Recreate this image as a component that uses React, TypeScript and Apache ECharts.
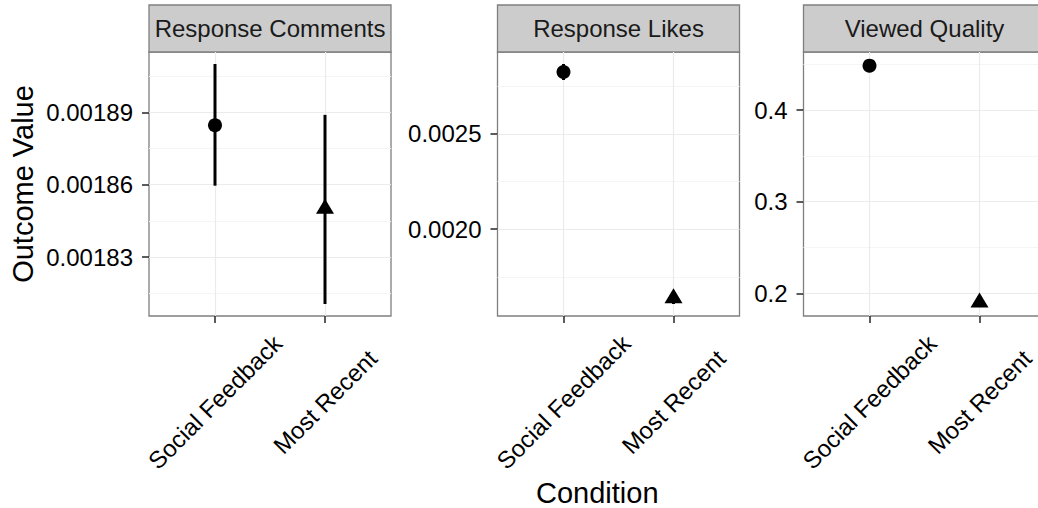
import React, { useEffect, useRef } from "react";
import * as echarts from "echarts";

// ---- data ----
const conditions = ["Social Feedback", "Most Recent"];
const facets = ["Response Comments", "Response Likes", "Viewed Quality"];

const commentsMean = [0.0018847, 0.00185];
const commentsLower = [0.0018596, 0.0018105];
const commentsUpper = [0.0019101, 0.001889];

const likesMean = [0.002824, 0.001638];
const likesLower = [0.002782, 0.001608];
const likesUpper = [0.002866, 0.001668];

const qualityMean = [0.4484, 0.19];
const qualityLower = [0.4466, 0.1883];
const qualityUpper = [0.4502, 0.1917];

const commentsTicks = [0.00183, 0.00186, 0.00189];
const commentsTickLabels = ["0.00183", "0.00186", "0.00189"];
const commentsMinor = [0.001815, 0.001845, 0.001875, 0.001905];

const likesTicks = [0.002, 0.0025];
const likesTickLabels = ["0.0020", "0.0025"];
const likesMinor = [0.00175, 0.00225, 0.00275];

const qualityTicks = [0.2, 0.3, 0.4];
const qualityTickLabels = ["0.2", "0.3", "0.4"];
const qualityMinor = [0.25, 0.35, 0.45];

const xTitle = "Condition";
const yTitle = "Outcome Value";

const FONT = '"Liberation Sans", Arial, Helvetica, sans-serif';

export default function App() {
  const ref = useRef<HTMLDivElement>(null);

  useEffect(() => {
    if (!ref.current) return;
    const chart = echarts.init(ref.current, undefined, { renderer: "svg" });

    const panels = [
      { title: facets[0], mean: commentsMean, lower: commentsLower, upper: commentsUpper, ticks: commentsTicks, labels: commentsTickLabels, minor: commentsMinor },
      { title: facets[1], mean: likesMean, lower: likesLower, upper: likesUpper, ticks: likesTicks, labels: likesTickLabels, minor: likesMinor },
      { title: facets[2], mean: qualityMean, lower: qualityLower, upper: qualityUpper, ticks: qualityTicks, labels: qualityTickLabels, minor: qualityMinor },
    ];

    const lefts = [149, 497.5, 803.5];
    const pw = 242;
    const top = 52;
    const ph = 264;
    const stripTop = 5;

    const grids: any[] = [];
    const xAxes: any[] = [];
    const yAxes: any[] = [];
    const series: any[] = [];
    const graphics: any[] = [];

    const xPos = conditions.map((_, i) => i + 1);

    panels.forEach((p, i) => {
      const lo = Math.min(...p.lower);
      const hi = Math.max(...p.upper);
      const pad = (hi - lo) * 0.05;
      const ymin = lo - pad;
      const ymax = hi + pad;

      grids.push({
        left: lefts[i],
        top,
        width: pw,
        height: ph,
        show: true,
        containLabel: false,
        outerBoundsMode: "none",
        backgroundColor: "#fff",
        borderColor: "#7F7F7F",
        borderWidth: 1.3,
      });

      xAxes.push({
        type: "value",
        gridIndex: i,
        position: "bottom",
        min: 0.4,
        max: 2.6,
        axisLine: { show: false },
        axisTick: {
          show: true,
          customValues: xPos,
          length: 7,
          lineStyle: { color: "#333", width: 1.6 },
        },
        axisLabel: {
          customValues: xPos,
          formatter: (v: number) => conditions[Math.round(v) - 1] ?? "",
          rotate: 45,
          align: "center",
          verticalAlign: "middle",
          margin: 86,
          fontSize: 24,
          color: "#000",
          fontFamily: FONT,
        },
        splitLine: { show: true, lineStyle: { color: "#EBEBEB", width: 1.2 } },
      });

      // minor grid axis
      yAxes.push({
        type: "value",
        gridIndex: i,
        position: "left",
        min: ymin,
        max: ymax,
        axisLine: { show: false },
        axisTick: { show: false, customValues: p.minor },
        axisLabel: { show: false, customValues: p.minor },
        splitLine: { show: true, lineStyle: { color: "#F5F5F5", width: 1.2 } },
      });
      // major axis
      yAxes.push({
        type: "value",
        gridIndex: i,
        position: "left",
        min: ymin,
        max: ymax,
        axisLine: { show: false },
        axisTick: {
          show: true,
          customValues: p.ticks,
          length: 7,
          lineStyle: { color: "#333", width: 1.6 },
        },
        axisLabel: {
          customValues: p.ticks,
          formatter: (v: number) => {
            let best = 0;
            p.ticks.forEach((t, k) => {
              if (Math.abs(t - v) < Math.abs(p.ticks[best] - v)) best = k;
            });
            return p.labels[best];
          },
          margin: 16,
          fontSize: 24,
          color: "#000",
          fontFamily: FONT,
        },
        splitLine: { show: true, lineStyle: { color: "#EBEBEB", width: 1.2 } },
      });

      series.push({
        type: "custom",
        xAxisIndex: i,
        yAxisIndex: 2 * i + 1,
        z: 2,
        encode: { x: 0, y: [1, 2] },
        data: xPos.map((x, k) => [x, p.lower[k], p.upper[k]]),
        renderItem: (params: any, api: any) => {
          const x = api.value(0);
          const a = api.coord([x, api.value(1)]);
          const b = api.coord([x, api.value(2)]);
          return {
            type: "line",
            shape: { x1: a[0], y1: a[1], x2: b[0], y2: b[1] },
            style: { stroke: "#000", lineWidth: 3 },
          };
        },
      });

      series.push({
        type: "scatter",
        xAxisIndex: i,
        yAxisIndex: 2 * i + 1,
        z: 3,
        itemStyle: { color: "#000", opacity: 1 },
        data: xPos.map((x, k) =>
          k === 0
            ? { value: [x, p.mean[k]], symbol: "circle", symbolSize: 14 }
            : { value: [x, p.mean[k]], symbol: "triangle", symbolSize: [18, 15], symbolOffset: [0, -2.5] }
        ),
      });

      graphics.push({
        type: "rect",
        shape: { x: lefts[i], y: stripTop, width: pw, height: top - stripTop },
        style: { fill: "#CCCCCC", stroke: "#7F7F7F", lineWidth: 1.3 },
      });
      graphics.push({
        type: "text",
        x: lefts[i] + pw / 2,
        y: (stripTop + top) / 2,
        style: {
          text: p.title,
          font: `24px ${FONT}`,
          fill: "#1A1A1A",
          align: "center",
          verticalAlign: "middle",
          textAlign: "center",
          textVerticalAlign: "middle",
        },
      });
    });

    graphics.push({
      type: "text",
      x: 22.5,
      y: top + ph / 2,
      rotation: Math.PI / 2,
      style: {
        text: yTitle,
        font: `29px ${FONT}`,
        fill: "#000",
        align: "center",
        verticalAlign: "middle",
        textAlign: "center",
        textVerticalAlign: "middle",
      },
    });
    graphics.push({
      type: "text",
      x: lefts[0] + (lefts[2] + pw - lefts[0]) / 2,
      y: 493,
      style: {
        text: xTitle,
        font: `29px ${FONT}`,
        fill: "#000",
        align: "center",
        verticalAlign: "middle",
        textAlign: "center",
        textVerticalAlign: "middle",
      },
    });

    chart.setOption({
      animation: false,
      backgroundColor: "#fff",
      textStyle: { fontFamily: FONT },
      grid: grids,
      xAxis: xAxes,
      yAxis: yAxes,
      series,
      graphic: graphics,
    });

    return () => chart.dispose();
  }, []);

  return (
    <div
      ref={ref}
      style={{ position: "fixed", left: 0, top: 0, width: 1038, height: 508, background: "#fff" }}
    />
  );
}
